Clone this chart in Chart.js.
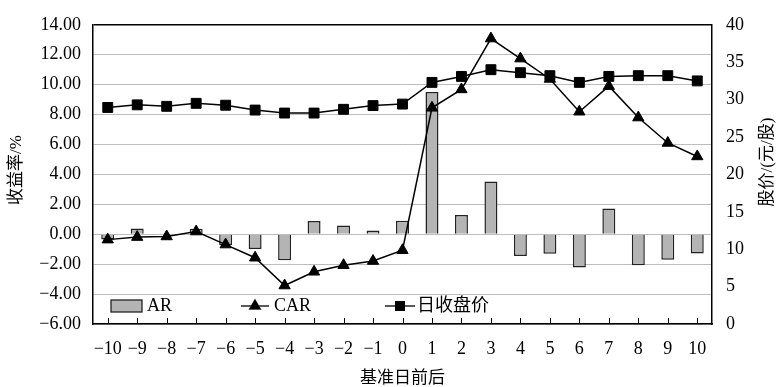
<!DOCTYPE html>
<html>
<head>
<meta charset="utf-8">
<script src="https://cdn.jsdelivr.net/npm/chart.js@4.4.0/dist/chart.umd.min.js"></script>
<style>
  html, body { margin: 0; padding: 0; background: #fff; }
  #wrap { width: 778px; height: 387px; }
</style>
</head>
<body>
<div id="wrap"><canvas id="chart" width="778" height="387"></canvas></div>
<script>
// event-window data
const days = ['\u221210', '\u22129', '\u22128', '\u22127', '\u22126', '\u22125', '\u22124', '\u22123', '\u22122', '\u22121',
              '0', '1', '2', '3', '4', '5', '6', '7', '8', '9', '10'];
const arValues = [-0.35, 0.38, 0.05, 0.36, -0.74, -0.98, -1.74, 0.89, 0.58, 0.25, 0.91,
                  9.50, 1.28, 3.52, -1.46, -1.31, -2.23, 1.72, -2.07, -1.70, -1.28];
const carValues = [-0.36, -0.19, -0.15, 0.18, -0.69, -1.57, -3.43, -2.51, -2.07, -1.79, -1.07,
                   8.45, 9.68, 13.08, 11.74, 10.38, 8.19, 9.90, 7.80, 6.10, 5.20];
const closeValues = [28.95, 29.3, 29.1, 29.5, 29.25, 28.6, 28.2, 28.2, 28.7, 29.2, 29.4,
                     32.3, 33.1, 34.0, 33.6, 33.2, 32.3, 33.1, 33.2, 33.2, 32.5];
const legendLabels = ['AR', 'CAR', '日收盘价'];
const axisTitles = { x: '基准日前后', y: '收益率/%', y1: '股价/(元/股)' };

const serif = "'Liberation Serif', 'Times New Roman', serif";
const cjk = "'Liberation Serif', 'Noto Sans CJK SC', serif";

// inward tick marks, axis titles and the legend inside the plot
const extras = {
    id: 'extras',
    afterDraw(chart) {
        const ctx = chart.ctx;
        const area = chart.chartArea;
        const x = chart.scales.x;
        ctx.save();
        ctx.strokeStyle = '#000';
        ctx.lineWidth = 1;
        days.forEach((d, i) => {
            const px = Math.round(x.getPixelForValue(i)) + 0.5;
            ctx.beginPath();
            ctx.moveTo(px, area.bottom);
            ctx.lineTo(px, area.bottom - 6);
            ctx.stroke();
        });

        // titles
        ctx.fillStyle = '#000';
        ctx.font = '17px ' + cjk;
        ctx.textAlign = 'center';
        ctx.textBaseline = 'middle';
        ctx.fillText(axisTitles.x, (area.left + area.right) / 2, 379);
        ctx.save();
        ctx.translate(17, 170);
        ctx.rotate(-Math.PI / 2);
        ctx.fillText(axisTitles.y, 0, 0);
        ctx.restore();
        ctx.save();
        ctx.translate(768, 162);
        ctx.rotate(-Math.PI / 2);
        ctx.fillText(axisTitles.y1, 0, 0);
        ctx.restore();

        // legend
        const ly = area.bottom - 18;
        ctx.textAlign = 'left';
        ctx.font = '18px ' + cjk;
        ctx.fillStyle = '#b4b4b4';
        ctx.fillRect(area.left + 18, ly - 6, 31, 12);
        ctx.strokeStyle = '#222';
        ctx.lineWidth = 1.3;
        ctx.strokeRect(area.left + 18, ly - 6, 31, 12);
        ctx.fillStyle = '#000';
        ctx.fillText(legendLabels[0], area.left + 54, ly);
        ctx.lineWidth = 1.5;
        ctx.beginPath();
        ctx.moveTo(area.left + 148, ly);
        ctx.lineTo(area.left + 176, ly);
        ctx.stroke();
        Chart.helpers.drawPoint(ctx, { pointStyle: 'triangle', radius: 6, borderWidth: 1 }, area.left + 162, ly);
        ctx.fill();
        ctx.fillText(legendLabels[1], area.left + 181, ly);
        ctx.beginPath();
        ctx.moveTo(area.left + 292, ly);
        ctx.lineTo(area.left + 322, ly);
        ctx.stroke();
        ctx.fillRect(area.left + 302, ly - 5, 10, 10);
        ctx.fillText(legendLabels[2], area.left + 324, ly);
        ctx.restore();
    }
};

const ctx = document.getElementById('chart').getContext('2d');
new Chart(ctx, {
    type: 'bar',
    data: {
        labels: days,
        datasets: [
            {
                type: 'line',
                label: legendLabels[1],
                data: carValues,
                yAxisID: 'y',
                borderColor: '#000',
                backgroundColor: '#000',
                borderWidth: 1.5,
                pointStyle: 'triangle',
                pointRadius: 6.5,
                pointBorderWidth: 1,
                tension: 0,
                order: 1
            },
            {
                type: 'line',
                label: legendLabels[2],
                data: closeValues,
                yAxisID: 'y1',
                borderColor: '#000',
                backgroundColor: '#000',
                borderWidth: 1.5,
                pointStyle: 'rect',
                pointRadius: 7,
                pointBorderWidth: 1,
                tension: 0,
                order: 2
            },
            {
                label: legendLabels[0],
                data: arValues,
                yAxisID: 'y',
                backgroundColor: '#b4b4b4',
                borderColor: '#222',
                borderWidth: 1.5,
                barPercentage: 0.44,
                categoryPercentage: 1,
                order: 3
            }
        ]
    },
    options: {
        responsive: false,
        animation: false,
        layout: { padding: { top: 20, left: 0, right: 0, bottom: 0 } },
        plugins: { legend: { display: false }, tooltip: { enabled: false } },
        scales: {
            x: {
                offset: true,
                grid: { display: false, drawTicks: false },
                border: { color: '#000', width: 1.5 },
                ticks: { color: '#000', font: { family: serif, size: 18 }, padding: 14, maxRotation: 0, autoSkip: false },
                afterFit(scale) { scale.height = 63; }
            },
            y: {
                position: 'left',
                min: -6, max: 14,
                ticks: {
                    stepSize: 2, color: '#000', padding: 12,
                    font: { family: serif, size: 18 },
                    callback: v => v.toFixed(2).replace('-', '\u2212')
                },
                grid: {
                    drawTicks: false,
                    color: c => (c.tick && c.tick.value === 14) ? '#000' : '#bdbdbd',
                    lineWidth: c => (c.tick && c.tick.value === 14) ? 1.5 : 1
                },
                border: { color: '#000', width: 1.5 },
                afterFit(scale) { scale.width = 93; }
            },
            y1: {
                position: 'right',
                min: 0, max: 40,
                ticks: { stepSize: 5, color: '#000', padding: 14, font: { family: serif, size: 18 } },
                grid: { display: false, drawTicks: false },
                border: { color: '#000', width: 1.5 },
                afterFit(scale) { scale.width = 66; }
            }
        }
    },
    plugins: [extras]
});
</script>
</body>
</html>
